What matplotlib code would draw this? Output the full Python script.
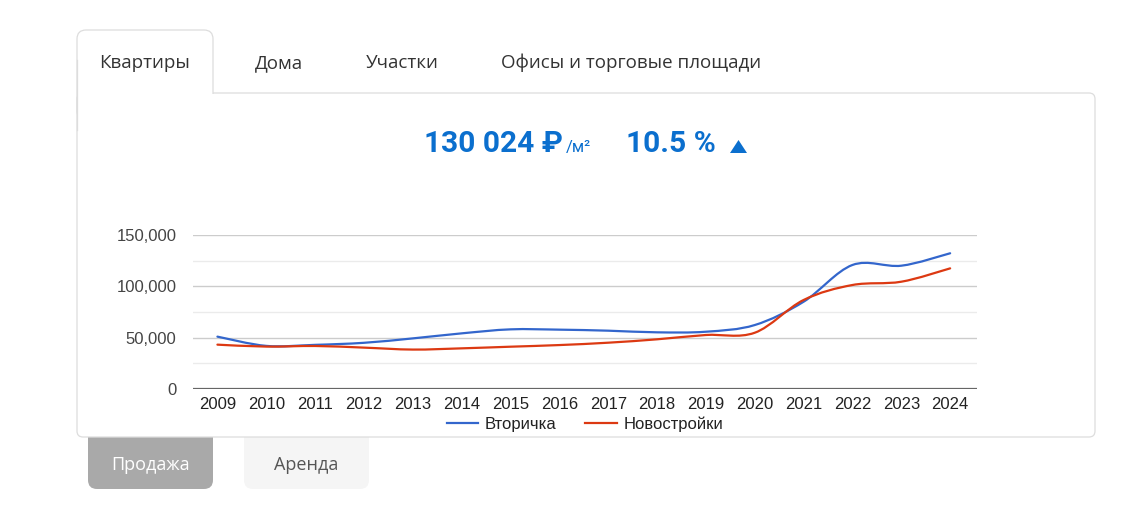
import matplotlib as mpl
mpl.use("Agg")
import matplotlib.pyplot as plt
import numpy as np
from matplotlib.patches import FancyBboxPatch, Polygon, PathPatch
from matplotlib.path import Path

W, H = 1128, 508

years = list(range(2009, 2025))
secondary = [51000, 42000, 43000, 45000, 49300, 54200, 58100, 57800, 56800,
             55200, 55800, 62300, 85000, 120800, 120100, 132200]
new_build = [43200, 41300, 41900, 40300, 38400, 39600, 41200, 42800, 45100,
             48400, 52600, 54800, 86700, 101300, 104500, 117500]

tabs = ["Квартиры", "Дома", "Участки", "Офисы и торговые площади"]
tab_x = [144.5, 278.5, 402, 631.5]
series_names = ["Вторичка", "Новостройки"]
price_text = "130 024 ₽"
unit_text = "/м²"
change_text = "10.5 %"

BLUE = "#3366cc"
RED = "#dc3912"
HEAD = "#0b6fce"
UI_FONT = ["Open Sans", "DejaVu Sans"]
HEAD_FONT = ["Roboto", "DejaVu Sans"]
CHART_FONT = ["Liberation Sans", "DejaVu Sans"]


def smooth_path(xs, ys, k=0.5):
    # cardinal spline through the points, drawn as cubic Bezier segments
    xs = np.asarray(xs, float)
    ys = np.asarray(ys, float)
    n = len(xs)
    verts = [(xs[0], ys[0])]
    codes = [Path.MOVETO]
    for i in range(n - 1):
        i0, i3 = max(i - 1, 0), min(i + 2, n - 1)
        t1 = ((xs[i + 1] - xs[i0]) * k / 3, (ys[i + 1] - ys[i0]) * k / 3)
        t2 = ((xs[i3] - xs[i]) * k / 3, (ys[i3] - ys[i]) * k / 3)
        verts += [(xs[i] + t1[0], ys[i] + t1[1]),
                  (xs[i + 1] - t2[0], ys[i + 1] - t2[1]),
                  (xs[i + 1], ys[i + 1])]
        codes += [Path.CURVE4] * 3
    return Path(verts, codes)


fig = plt.figure(figsize=(W / 100, H / 100), dpi=100)
fig.patch.set_facecolor("white")

bg = fig.add_axes([0, 0, 1, 1])
bg.set_xlim(0, W)
bg.set_ylim(H, 0)
bg.axis("off")

# buttons under the card
bg.add_patch(FancyBboxPatch((88, 420), 125, 69, boxstyle="round,pad=0,rounding_size=9",
                            facecolor="#a9a9a9", edgecolor="none", zorder=1))
bg.add_patch(FancyBboxPatch((244, 420), 125, 69, boxstyle="round,pad=0,rounding_size=9",
                            facecolor="#f5f5f5", edgecolor="none", zorder=1))
bg.text(150.5, 465, "Продажа", ha="center", va="center", fontsize=13,
        color="white", family=UI_FONT, zorder=2)
bg.text(306.5, 465, "Аренда", ha="center", va="center", fontsize=13,
        color="#555555", family=UI_FONT, zorder=2)

# card panel with the active tab
bg.add_patch(FancyBboxPatch((77, 93), 1018, 344, boxstyle="round,pad=0,rounding_size=6",
                            facecolor="white", edgecolor="#dddddd", lw=0.9, zorder=3))
bg.add_patch(FancyBboxPatch((77, 30), 136, 90, boxstyle="round,pad=0,rounding_size=9",
                            facecolor="white", edgecolor="#dddddd", lw=0.9, zorder=4))
bg.add_patch(plt.Rectangle((77.6, 93.6), 137, 30, facecolor="white", edgecolor="none", zorder=5))
bg.plot([77, 77], [60, 130], color="#dddddd", lw=0.9, zorder=6)

for name, x in zip(tabs, tab_x):
    bg.text(x, 63, name, ha="center", va="center", fontsize=13.5,
            color="#333333", family=UI_FONT, zorder=7)

# headline
bg.text(424, 152, price_text, ha="left", va="baseline", fontsize=21.5, fontweight="bold",
        color=HEAD, family=HEAD_FONT, zorder=7)
bg.text(566, 152, unit_text, ha="left", va="baseline", fontsize=12, color=HEAD,
        family=HEAD_FONT, zorder=7)
bg.text(626, 152, change_text, ha="left", va="baseline", fontsize=21.5, fontweight="bold",
        color=HEAD, family=HEAD_FONT, zorder=7)
bg.add_patch(Polygon([(730, 153), (747, 153), (738.5, 140)], closed=True,
                     facecolor=HEAD, edgecolor="none", zorder=7))

# chart
ax = fig.add_axes([193 / W, (H - 389) / H, (977 - 193) / W, 154 / H])
ax.set_facecolor("none")
ax.set_xlim(2008.5, 2024.55)
ax.set_ylim(0, 150000)

for v in [25000, 75000, 125000]:
    ax.axhline(v, color="#ebebeb", lw=1, zorder=1)
for v in [50000, 100000, 150000]:
    ax.axhline(v, color="#cccccc", lw=1, zorder=1)
ax.axhline(0, color="#666666", lw=1.6, zorder=4)

for vals, color, name in zip([secondary, new_build], [BLUE, RED], series_names):
    ax.add_patch(PathPatch(smooth_path(years, vals), facecolor="none", edgecolor=color,
                           lw=1.6, zorder=3, capstyle="round"))
    ax.plot([], [], color=color, lw=1.6, label=name)

for s in ax.spines.values():
    s.set_visible(False)
ax.set_xticks(years)
ax.set_xticklabels([str(y) for y in years], family=CHART_FONT, fontsize=12, color="#222222")
ax.set_yticks([0, 50000, 100000, 150000])
ax.set_yticklabels(["0", "50,000", "100,000", "150,000"], family=CHART_FONT,
                   fontsize=12, color="#444444")
ax.tick_params(length=0)
ax.tick_params(axis="x", pad=6)
ax.tick_params(axis="y", pad=12)

leg = ax.legend(loc="center", bbox_to_anchor=(0.5, -0.228), ncol=2, frameon=False,
                prop={"family": CHART_FONT, "size": 12}, handlelength=1.9,
                columnspacing=1.7, handletextpad=0.4, borderaxespad=0, borderpad=0)
for t in leg.get_texts():
    t.set_color("#222222")

fig.savefig("out.png", dpi=100)
